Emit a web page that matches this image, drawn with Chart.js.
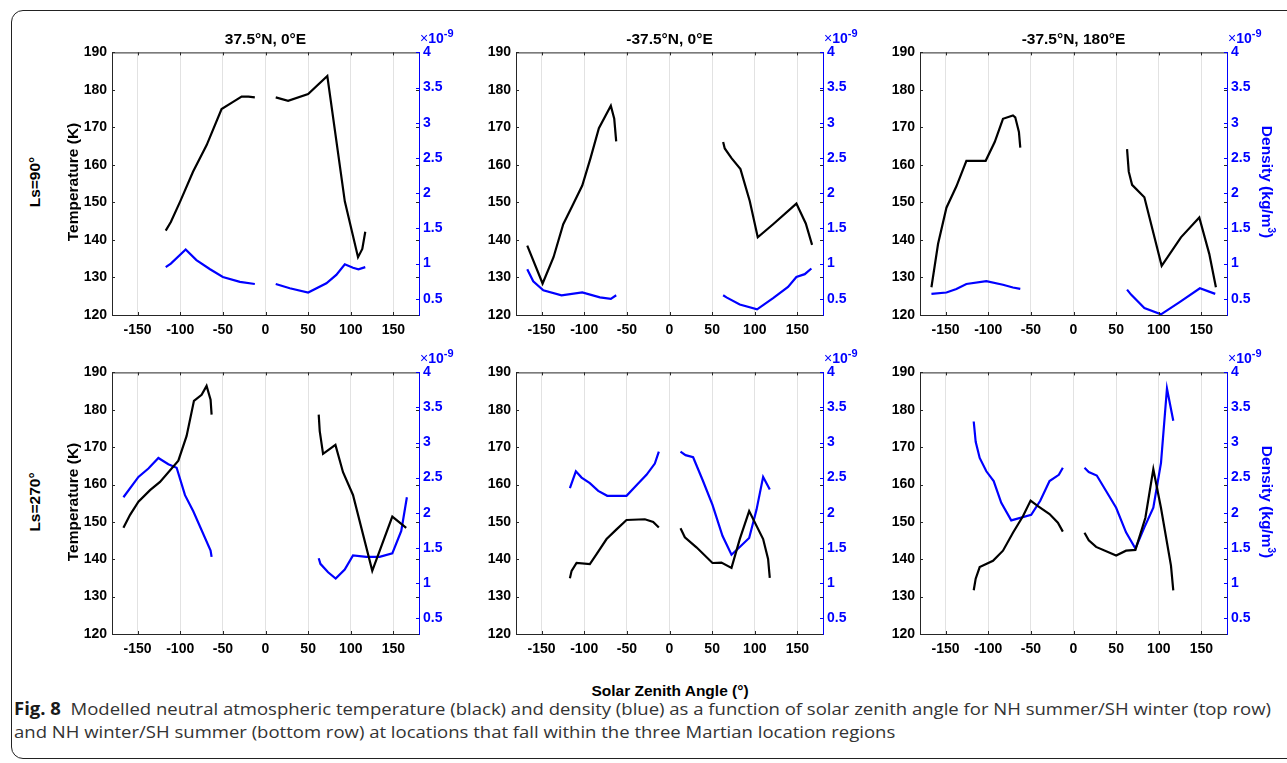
<!DOCTYPE html>
<html>
<head>
<meta charset="utf-8">
<script src="https://cdn.jsdelivr.net/npm/chart.js@4.4.0/dist/chart.umd.min.js"></script>
<style>
  body { margin: 0; width: 1287px; height: 763px; background: #fff; position: relative; overflow: hidden;
         font-family: "Liberation Sans", Arial, sans-serif; }
  .frame { position: absolute; left: 11px; top: 10px; width: 1310px; height: 749px;
           border: 1px solid #222; border-radius: 12px; box-sizing: border-box; }
  canvas { position: absolute; }
  .lbl { position: absolute; font-weight: bold; font-size: 15.5px; line-height: 15px; color: #000;
         white-space: nowrap; transform: translate(-50%, -50%); }
  .rot { transform: translate(-50%, -50%) rotate(-90deg); }
  .rotr { transform: translate(-50%, -50%) rotate(90deg); color: #0000ff; }
  .rotr sup { font-size: 10px; vertical-align: 6px; line-height: 0; }
  .exp { position: absolute; color: #0000ff; font-size: 14px; line-height: 14px; white-space: nowrap;
         transform: translate(0, -50%); }
  .exp b { font-weight: bold; }
  .exp sup { font-size: 11px; font-weight: bold; vertical-align: 6px; line-height: 0; }
  .cap { position: absolute; left: 14px; font-family: "Open Sans", "Noto Sans", sans-serif; font-size: 17px;
         line-height: 20px; color: #333; white-space: nowrap; transform-origin: 0 0; }
  .cap b { color: #1a1a1a; }
</style>
</head>
<body>
<div class="frame"></div>

<script>
// axis ticks
const xTicks = [-150, -100, -50, 0, 50, 100, 150];
const tempTicks = [120, 130, 140, 150, 160, 170, 180, 190];
const densTicks = [0.5, 1, 1.5, 2, 2.5, 3, 3.5, 4];

// Ls=90, 37.5N 0E  (density in units of 1e-9 kg/m3)
const ls90_a_tempSza = [-117, -111, -100, -85, -69, -51.5, -38, -28, -20, -12.5, 12, 26.5, 50, 72.5, 93, 108.5, 113.5, 117];
const ls90_a_temp = [142.5, 144.8, 150.3, 158.2, 165.3, 174.9, 176.8, 178.2, 178.2, 178, 178, 177.1, 178.9, 183.7, 150.3, 135.4, 137.6, 142.2];
const ls90_a_densSza = [-117, -111, -93.6, -81, -65, -50, -30, -12.5, 12, 28.5, 50, 71.4, 83, 93, 102.6, 109, 117];
const ls90_a_dens = [0.95, 1.0, 1.2, 1.05, 0.92, 0.81, 0.74, 0.71, 0.71, 0.65, 0.59, 0.72, 0.84, 0.99, 0.94, 0.92, 0.95];

// Ls=90, -37.5N 0E
const ls90_b_tempSza = [-166.8, -148.8, -136, -124.6, -113, -102.3, -92.6, -82.8, -68.8, -64.8, -62.5, 62.9, 64.8, 72.7, 83.2, 94.1, 103.5, 121.5, 148.8, 159.8, 167.2];
const ls90_b_temp = [138.5, 128.4, 135.4, 144.2, 149.5, 154.5, 161.8, 169.8, 175.8, 172.3, 166.3, 166.1, 164.4, 161.8, 158.9, 150.4, 140.7, 144.2, 149.7, 144.4, 138.7];
const ls90_b_densSza = [-166.8, -159.8, -148, -126.6, -102.3, -81.6, -68.8, -62.5, 62.9, 66.8, 82.4, 102.7, 121.5, 139, 148.8, 158.6, 166.4];
const ls90_b_dens = [0.92, 0.75, 0.62, 0.55, 0.59, 0.52, 0.50, 0.55, 0.55, 0.52, 0.42, 0.35, 0.51, 0.67, 0.81, 0.85, 0.93];

// Ls=90, -37.5N 180E
const ls90_c_tempSza = [-166.6, -158.8, -149, -137.3, -125.6, -103, -92.4, -82.7, -71, -68.3, -64, -62.4, 62.8, 64.8, 68.7, 83.1, 103.4, 126, 147.5, 159.2, 167];
const ls90_c_temp = [127.4, 139, 148.6, 154.3, 161.1, 161.1, 166.1, 172.3, 173.2, 172.7, 168.8, 164.6, 164.2, 158.2, 154.7, 151.4, 133.1, 140.7, 146, 136.3, 127.4];
const ls90_c_densSza = [-166.6, -149, -137.3, -125.6, -102.2, -82.7, -71, -62.4, 62.8, 67.5, 83.1, 102.6, 124, 148.2, 166.2];
const ls90_c_dens = [0.57, 0.59, 0.64, 0.71, 0.75, 0.70, 0.66, 0.64, 0.63, 0.56, 0.37, 0.28, 0.45, 0.65, 0.57];

// Ls=270, 37.5N 0E
const ls270_a_tempSza = [-166.6, -158.8, -149, -135.4, -123.7, -102.2, -92.5, -83.9, -74.9, -69.1, -64.4, -63.2, 62.4, 63.6, 67.5, 82, 90.9, 102.6, 125.2, 148.7, 165];
const ls270_a_temp = [148.4, 151.9, 155.4, 158.5, 160.7, 166.4, 173, 182.4, 184, 186.4, 182.7, 178.7, 178.7, 174.3, 168.2, 170.6, 163.3, 157.2, 136.9, 151.4, 148.4];
const ls270_a_densSza = [-166.6, -149, -137.3, -125.6, -113.9, -104.2, -94.4, -84.7, -64.4, -63.2, 62.4, 64.4, 73.4, 82.3, 92.9, 102.6, 118.2, 133.8, 148.7, 159.2, 165.8];
const ls270_a_dens = [2.22, 2.51, 2.63, 2.78, 2.69, 2.64, 2.25, 2.02, 1.46, 1.37, 1.35, 1.27, 1.15, 1.06, 1.19, 1.39, 1.37, 1.37, 1.42, 1.74, 2.22];

// Ls=270, -37.5N 0E
const ls270_b_tempSza = [-116.8, -114.8, -109, -93.4, -85.5, -73.8, -62.1, -50.4, -28.9, -19.1, -12.5, 12.9, 18, 31.6, 50.4, 60.9, 72.7, 82.4, 93.4, 109.8, 115.6, 117.6];
const ls270_b_temp = [134.9, 136.9, 139, 138.7, 141.4, 145.4, 148, 150.5, 150.7, 150, 148.5, 148.3, 145.9, 143.2, 139, 139.1, 137.7, 145.4, 152.9, 145.4, 140.1, 135];
const ls270_b_densSza = [-116.8, -109.8, -103.1, -93.4, -83.6, -73, -50.4, -38.7, -27, -17.2, -12.5, 12.9, 18.8, 27.7, 38.7, 50.4, 62.1, 72.7, 82.4, 93.4, 102, 109.8, 117.6];
const ls270_b_dens = [2.35, 2.59, 2.50, 2.42, 2.31, 2.24, 2.24, 2.39, 2.54, 2.70, 2.87, 2.87, 2.82, 2.79, 2.47, 2.11, 1.67, 1.40, 1.51, 1.64, 2.04, 2.51, 2.33];

// Ls=270, -37.5N 180E
const ls270_c_tempSza = [-117, -114.7, -110, -94.4, -82.7, -71, -59.3, -50.3, -41.7, -28.1, -18.3, -12.5, 12.9, 17.9, 26.5, 50, 61.6, 72.6, 84.3, 93.6, 102.6, 114.3, 117];
const ls270_c_temp = [131.7, 134.8, 137.9, 139.6, 142.3, 147.1, 151.5, 155.7, 154.2, 152.1, 149.8, 147.4, 147.1, 145.1, 143.3, 141, 142.3, 142.5, 151.1, 164.1, 153.7, 138.3, 131.7];
const ls270_c_densSza = [-117, -114.7, -110, -102.2, -93.6, -84.7, -73, -49.6, -39, -28.1, -17.2, -12.5, 12.9, 17.9, 27.3, 50, 61.6, 72.6, 83.1, 93.6, 102.6, 109.6, 117];
const ls270_c_dens = [3.30, 3.01, 2.78, 2.59, 2.45, 2.14, 1.89, 1.97, 2.17, 2.45, 2.54, 2.64, 2.64, 2.58, 2.53, 2.07, 1.72, 1.49, 1.79, 2.07, 2.71, 3.77, 3.31];

const colTitles = ['37.5°N, 0°E', '-37.5°N, 0°E', '-37.5°N, 180°E'];
const rowTitles = ['Ls=90°', 'Ls=270°'];

const panels = [
  { row: 0, col: 0, tSza: ls90_a_tempSza, t: ls90_a_temp, dSza: ls90_a_densSza, d: ls90_a_dens },
  { row: 0, col: 1, tSza: ls90_b_tempSza, t: ls90_b_temp, dSza: ls90_b_densSza, d: ls90_b_dens },
  { row: 0, col: 2, tSza: ls90_c_tempSza, t: ls90_c_temp, dSza: ls90_c_densSza, d: ls90_c_dens },
  { row: 1, col: 0, tSza: ls270_a_tempSza, t: ls270_a_temp, dSza: ls270_a_densSza, d: ls270_a_dens },
  { row: 1, col: 1, tSza: ls270_b_tempSza, t: ls270_b_temp, dSza: ls270_b_densSza, d: ls270_b_dens },
  { row: 1, col: 2, tSza: ls270_c_tempSza, t: ls270_c_temp, dSza: ls270_c_densSza, d: ls270_c_dens },
];

// layout
const colLeft = [112, 516, 920];
const rowTop = [49, 369];
const plotW = 307;
const plotH = [266, 265];
const BLUE = '#0000ff';
const AXIS = '#262626';
const tickFont = { family: 'Liberation Sans', weight: 'bold', size: 14 };

function addLabel(html, x, y, cls) {
  const d = document.createElement('div');
  d.className = 'lbl ' + (cls || '');
  d.innerHTML = html;
  d.style.left = x + 'px';
  d.style.top = y + 'px';
  document.body.appendChild(d);
  return d;
}

// split a series into its negative and positive SZA branches
function branches(sza, vals) {
  const neg = [], pos = [];
  sza.forEach((a, i) => (a < 0 ? neg : pos).push({ x: a, y: vals[i] }));
  return [neg, pos];
}

// inward tick marks + top box line (MATLAB style)
const boxTicks = {
  id: 'boxTicks',
  afterDraw(chart) {
    const { ctx, chartArea: a, scales } = chart;
    ctx.save();
    ctx.lineWidth = 1;
    ctx.strokeStyle = AXIS;
    ctx.beginPath();
    ctx.moveTo(a.left, a.top + 0.5);
    ctx.lineTo(a.right, a.top + 0.5);
    for (const v of xTicks) {
      const px = Math.round(scales.x.getPixelForValue(v)) + 0.5;
      ctx.moveTo(px, a.bottom); ctx.lineTo(px, a.bottom - 3);
      ctx.moveTo(px, a.top); ctx.lineTo(px, a.top + 3);
    }
    for (const v of tempTicks) {
      const py = Math.round(scales.yT.getPixelForValue(v)) + 0.5;
      ctx.moveTo(a.left, py); ctx.lineTo(a.left + 3, py);
      ctx.moveTo(a.right, py); ctx.lineTo(a.right - 3, py);
    }
    ctx.stroke();
    ctx.strokeStyle = BLUE;
    ctx.beginPath();
    for (const v of densTicks) {
      const py = Math.round(scales.yD.getPixelForValue(v)) + 0.5;
      ctx.moveTo(a.right, py); ctx.lineTo(a.right - 3, py);
    }
    ctx.stroke();
    ctx.restore();
  }
};

panels.forEach(p => {
  const L = colLeft[p.col], T = rowTop[p.row], H = plotH[p.row];
  const cv = document.createElement('canvas');
  cv.width = plotW + 100;
  cv.height = H + 40;
  cv.style.left = (L - 50) + 'px';
  cv.style.top = (T - 10) + 'px';
  document.body.appendChild(cv);

  const datasets = [];
  branches(p.tSza, p.t).forEach(seg => datasets.push({
    data: seg, yAxisID: 'yT', borderColor: '#000', borderWidth: 2.2, pointRadius: 0, tension: 0
  }));
  branches(p.dSza, p.d).forEach(seg => datasets.push({
    data: seg, yAxisID: 'yD', borderColor: BLUE, borderWidth: 2.2, pointRadius: 0, tension: 0
  }));

  new Chart(cv, {
    type: 'line',
    data: { datasets },
    options: {
      responsive: false,
      animation: false,
      layout: { padding: { top: 10 } },
      plugins: { legend: { display: false }, tooltip: { enabled: false } },
      scales: {
        x: {
          type: 'linear', min: -180, max: 180,
          afterBuildTicks: s => { s.ticks = xTicks.map(v => ({ value: v })); },
          afterFit: s => { s.height = 30; },
          grid: { color: '#e2e2e2', drawTicks: false },
          border: { color: AXIS },
          ticks: { font: tickFont, color: '#000', padding: 7, maxRotation: 0, autoSkip: false, callback: v => String(v) }
        },
        yT: {
          type: 'linear', position: 'left', min: 120, max: 190,
          afterBuildTicks: s => { s.ticks = tempTicks.map(v => ({ value: v })); },
          afterFit: s => { s.width = 50; },
          grid: { display: false, drawTicks: false },
          border: { color: AXIS },
          ticks: { font: tickFont, color: '#000', padding: 5, callback: v => String(v) }
        },
        yD: {
          type: 'linear', position: 'right', min: 0.27, max: 4,
          afterBuildTicks: s => { s.ticks = densTicks.map(v => ({ value: v })); },
          afterFit: s => { s.width = 50; },
          grid: { display: false, drawTicks: false },
          border: { color: BLUE },
          ticks: { font: tickFont, color: BLUE, padding: 4, callback: v => String(v) }
        }
      }
    },
    plugins: [boxTicks]
  });

  // exponent label above the density axis
  const e = document.createElement('div');
  e.className = 'exp';
  e.innerHTML = '×<b>10</b><sup>-9</sup>';
  e.style.left = (L + plotW + 1) + 'px';
  e.style.top = (T - 11) + 'px';
  document.body.appendChild(e);
});

// column titles, row labels, axis titles
colTitles.forEach((t, c) => addLabel(t, colLeft[c] + plotW / 2, 37.5));
rowTitles.forEach((t, r) => {
  const cy = rowTop[r] + plotH[r] / 2;
  addLabel(t, 33.5, cy, 'rot');
  addLabel('Temperature (K)', 72, cy, 'rot');
  addLabel('Density (kg/m<sup>3</sup>)', 1267, cy, 'rotr');
});
addLabel('Solar Zenith Angle (°)', 670, 689.5);

// caption
const cap1 = document.createElement('div');
cap1.className = 'cap';
cap1.style.top = '699px';
cap1.innerHTML = '<b>Fig. 8</b>&nbsp; Modelled neutral atmospheric temperature (black) and density (blue) as a function of solar zenith angle for NH summer/SH winter (top row)';
const cap2 = document.createElement('div');
cap2.className = 'cap';
cap2.style.top = '722px';
cap2.textContent = 'and NH winter/SH summer (bottom row) at locations that fall within the three Martian location regions';
document.body.appendChild(cap1);
document.body.appendChild(cap2);
const k = 1257 / cap1.getBoundingClientRect().width;
cap1.style.transform = 'scaleX(' + k + ')';
cap2.style.transform = 'scaleX(' + k + ')';
</script>
</body>
</html>
